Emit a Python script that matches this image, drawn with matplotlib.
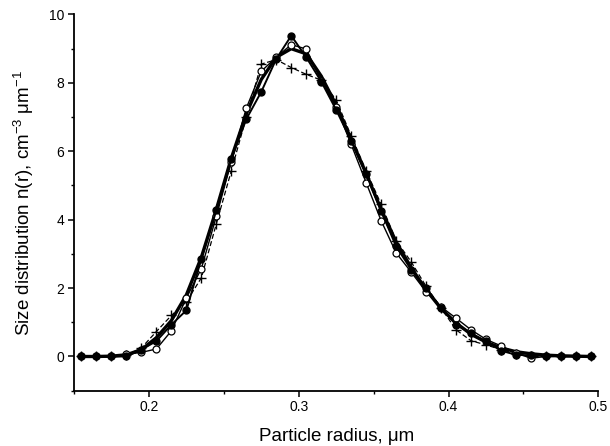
import numpy as np
import matplotlib
matplotlib.use("Agg")
import matplotlib.pyplot as plt
from matplotlib.ticker import MultipleLocator

plt.rcParams['font.family'] = ['Liberation Sans', 'DejaVu Sans']
plt.rcParams['mathtext.fontset'] = 'custom'
plt.rcParams['mathtext.rm'] = 'Liberation Sans'
plt.rcParams['mathtext.it'] = 'Liberation Sans:italic'

# particle radius, um
radius = [0.155, 0.165, 0.175, 0.185, 0.195, 0.205, 0.215, 0.225, 0.235, 0.245,
          0.255, 0.265, 0.275, 0.285, 0.295, 0.305, 0.315, 0.325, 0.335, 0.345,
          0.355, 0.365, 0.375, 0.385, 0.395, 0.405, 0.415, 0.425, 0.435, 0.445,
          0.455, 0.465, 0.475, 0.485, 0.495]

# size distributions
filled = [0.0, 0.0, 0.0, 0.0, 0.2, 0.45, 0.93, 1.35, 2.85, 4.27,
          5.77, 6.94, 7.74, 8.70, 9.38, 8.75, 8.04, 7.21, 6.30, 5.33,
          4.25, 3.22, 2.54, 2.00, 1.42, 0.93, 0.68, 0.44, 0.17, 0.05,
          0.03, 0.02, 0.01, 0.01, 0.0]
hollow = [0.0, 0.0, 0.0, 0.07, 0.12, 0.22, 0.75, 1.71, 2.57, 4.10,
          5.70, 7.26, 8.34, 8.75, 9.12, 8.99, 8.06, 7.30, 6.20, 5.08,
          3.97, 3.03, 2.47, 1.89, 1.45, 1.12, 0.78, 0.50, 0.31, 0.10,
          -0.05, 0.0, 0.0, 0.0, 0.0]
plus = [0.0, 0.0, 0.0, 0.03, 0.25, 0.73, 1.20, 1.60, 2.30, 3.88,
        5.43, 7.00, 8.55, 8.68, 8.45, 8.25, 8.08, 7.50, 6.45, 5.43,
        4.45, 3.39, 2.77, 2.05, 1.42, 0.78, 0.46, 0.34, 0.20, 0.08,
        0.0, 0.0, 0.0, 0.0, 0.0]
smooth = [0.0, 0.0, 0.01, 0.05, 0.20, 0.55, 1.05, 1.80, 2.90, 4.30,
          5.80, 7.10, 8.10, 8.75, 9.00, 8.85, 8.20, 7.35, 6.35, 5.35,
          4.30, 3.35, 2.60, 1.95, 1.40, 0.98, 0.65, 0.42, 0.25, 0.14,
          0.08, 0.04, 0.02, 0.01, 0.0]

fig = plt.figure(figsize=(6.10, 4.46), dpi=100)
ax = fig.add_axes([0.1213, 0.124, 0.8597, 0.8435])

ax.plot(radius, smooth, color='black', lw=2.4)
ax.plot(radius, plus, color='black', lw=0.9, ls=(0, (4, 2)),
        marker='+', ms=7.5, mew=1.0)
ax.plot(radius, hollow, color='black', lw=1.0,
        marker='o', ms=5, mfc='white', mec='black', mew=0.9)
ax.plot(radius, filled, color='black', lw=1.4,
        marker='o', ms=5, mfc='black', mec='black')

ax.set_xlim(0.15, 0.5)
ax.set_ylim(-1, 10)
ax.xaxis.set_major_locator(MultipleLocator(0.1))
ax.xaxis.set_minor_locator(MultipleLocator(0.05))
ax.yaxis.set_major_locator(MultipleLocator(2))
ax.yaxis.set_minor_locator(MultipleLocator(1))
ax.xaxis.set_major_formatter(plt.FuncFormatter(lambda v, p: '' if abs(v - 0.1) < 1e-6 else f'{v:.1f}'))

for side in ['top', 'right']:
    ax.spines[side].set_visible(False)
for side in ['left', 'bottom']:
    ax.spines[side].set_linewidth(1.3)

ax.tick_params(which='major', direction='out', length=4, width=1.1, labelsize=10, pad=3)
ax.tick_params(which='minor', direction='out', length=2.5, width=1.0)

ax.set_xlabel('Particle radius, \u03bcm', fontsize=13.5, labelpad=10)
ax.set_ylabel('Size distribution n(r), cm$^{-3}$ \u03bcm$^{-1}$', fontsize=13.5, labelpad=9)

fig.savefig('out.png', dpi=100)
